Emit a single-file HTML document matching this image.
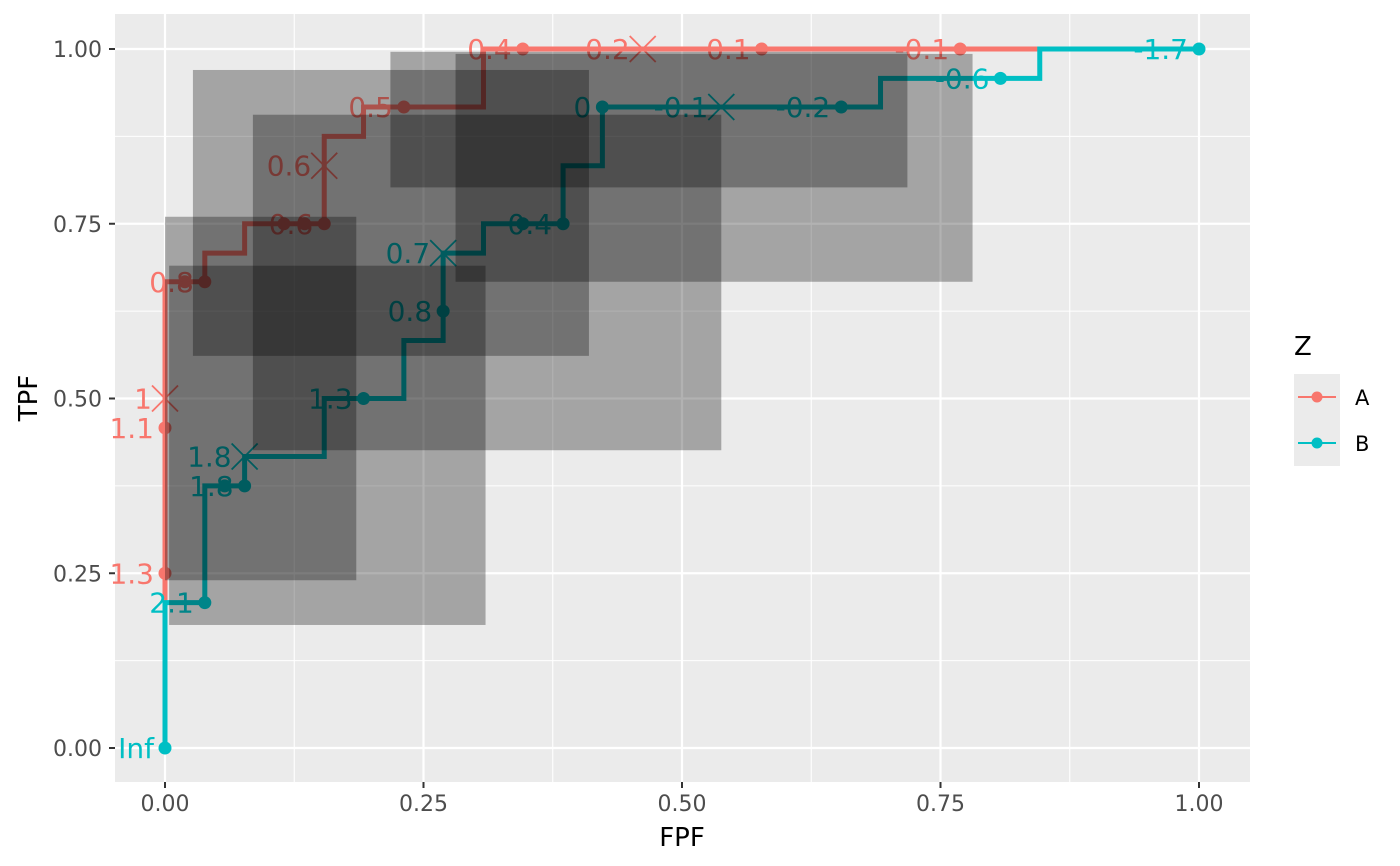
<!DOCTYPE html>
<html><head><meta charset="utf-8"><style>
html,body{margin:0;padding:0;background:#fff;}
svg{display:block;font-family:"DejaVu Sans","Liberation Sans",sans-serif;}
</style></head><body>
<svg id="chart" width="1400" height="866" viewBox="0 0 1400 866" xmlns="http://www.w3.org/2000/svg">
<rect x="0" y="0" width="1400" height="866" fill="#fff"/>
<rect x="115" y="14" width="1135" height="768" fill="#EBEBEB"/>
<g id="grid"></g>
<g id="series"></g>
<g id="rects"></g>
<g id="axes"></g>
<text x="682" y="846" font-size="26" text-anchor="middle" fill="#000">FPF</text>
<text x="0" y="0" font-size="26" text-anchor="middle" fill="#000" transform="translate(37,398) rotate(-90)">TPF</text>
<g>
<text x="1294" y="355" font-size="26" fill="#000">Z</text>
<g>
<rect x="1294" y="374" width="46" height="46" fill="#EBEBEB"/>
<line x1="1298" y1="397" x2="1336" y2="397" stroke="#F8766D" stroke-width="2"/>
<circle cx="1317" cy="397" r="5.5" fill="#F8766D"/>
<text x="1355" y="405" font-size="21" fill="#000">A</text>
</g>
<g>
<rect x="1294" y="420" width="46" height="46" fill="#EBEBEB"/>
<line x1="1298" y1="443" x2="1336" y2="443" stroke="#00BFC4" stroke-width="2"/>
<circle cx="1317" cy="443" r="5.5" fill="#00BFC4"/>
<text x="1355" y="451" font-size="21" fill="#000">B</text>
</g>
</g>
</svg>
<script>
const xTicks = [0, 0.25, 0.5, 0.75, 1];
const xTickLabels = ["0.00", "0.25", "0.50", "0.75", "1.00"];
const yTicks = [0, 0.25, 0.5, 0.75, 1];
const yTickLabels = ["0.00", "0.25", "0.50", "0.75", "1.00"];
const minorTicks = [0.125, 0.375, 0.625, 0.875];

const aStepFPF = [0,0,0.0385,0.0385,0.077,0.077,0.154,0.154,0.192,0.192,0.308,0.308,1];
const aStepTPF = [0,0.667,0.667,0.708,0.708,0.75,0.75,0.875,0.875,0.917,0.917,1,1];
const bStepFPF = [0,0,0.0385,0.0385,0.077,0.077,0.154,0.154,0.231,0.231,0.269,0.269,0.308,0.308,0.385,0.385,0.423,0.423,0.692,0.692,0.846,0.846,1];
const bStepTPF = [0,0.208,0.208,0.375,0.375,0.417,0.417,0.5,0.5,0.583,0.583,0.708,0.708,0.75,0.75,0.833,0.833,0.917,0.917,0.958,0.958,1,1];

const aPointFPF = [0,0,0.0192,0.0385,0.115,0.135,0.154,0.231,0.346,0.577,0.769];
const aPointTPF = [0.25,0.458,0.667,0.667,0.75,0.75,0.75,0.917,1,1,1];
const aPointLabels = ["1.3","1.1","","0.8","","","0.6","0.5","0.4","0.1","-0.1"];
const bPointFPF = [0,0.0385,0.0577,0.077,0.192,0.269,0.346,0.385,0.423,0.654,0.808,1];
const bPointTPF = [0,0.208,0.375,0.375,0.5,0.625,0.75,0.75,0.917,0.917,0.958,1];
const bPointLabels = ["Inf","2.1","","1.8","1.3","0.8","","0.4","0","-0.2","-0.6","-1.7"];

const aCrossFPF = [0,0.154,0.462];
const aCrossTPF = [0.5,0.833,1];
const aCrossLabels = ["1","0.6","0.2"];
const bCrossFPF = [0.077,0.269,0.538];
const bCrossTPF = [0.417,0.708,0.917];
const bCrossLabels = ["1.8","0.7","-0.1"];

const rectXMin = [0,0.004,0.027,0.085,0.218,0.281];
const rectXMax = [0.185,0.310,0.410,0.538,0.718,0.781];
const rectYMin = [0.240,0.176,0.561,0.426,0.802,0.667];
const rectYMax = [0.760,0.690,0.970,0.906,0.996,0.993];

const NS = "http://www.w3.org/2000/svg";
function sx(v){ return 165 + 1034*v; }
function sy(v){ return 748 - 699*v; }
function mk(tag, attrs, parent){
  const e = document.createElementNS(NS, tag);
  for (const k in attrs) e.setAttribute(k, attrs[k]);
  parent.appendChild(e);
  return e;
}
const grid = document.getElementById('grid');
const series = document.getElementById('series');
const rects = document.getElementById('rects');
const axes = document.getElementById('axes');

minorTicks.forEach(function(t){
  const l1 = mk('line', {x1:sx(t), x2:sx(t), y1:14, y2:782, stroke:'#fff', 'stroke-width':1.1}, grid);
  
  
  const l2 = mk('line', {x1:115, x2:1250, y1:sy(t), y2:sy(t), stroke:'#fff', 'stroke-width':1.1}, grid);
  
  
});
xTicks.forEach(function(t, i){
  const g = mk('line', {x1:sx(t), x2:sx(t), y1:14, y2:782, stroke:'#fff', 'stroke-width':2.2}, grid);
  
  
  const tk = mk('line', {x1:sx(t), x2:sx(t), y1:782, y2:788, stroke:'#333', 'stroke-width':2}, axes);
  
  
  const tx = mk('text', {x:sx(t), y:811, 'font-size':22, 'text-anchor':'middle', fill:'#4D4D4D'}, axes);
  tx.textContent = xTickLabels[i];
  
  
});
yTicks.forEach(function(t, i){
  const g = mk('line', {x1:115, x2:1250, y1:sy(t), y2:sy(t), stroke:'#fff', 'stroke-width':2.2}, grid);
  
  
  const tk = mk('line', {x1:109, x2:115, y1:sy(t), y2:sy(t), stroke:'#333', 'stroke-width':2}, axes);
  
  
  const tx = mk('text', {x:102, y:sy(t)+8, 'font-size':22, 'text-anchor':'end', fill:'#4D4D4D'}, axes);
  tx.textContent = yTickLabels[i];
  
  
});

function drawSeries(fx, fy, px, py, pl, cx, cy, cl, color, key){
  const pts = fx.map(function(v, i){ return sx(v)+','+sy(fy[i]); }).join(' ');
  const line = mk('polyline', {points:pts, fill:'none', stroke:color, 'stroke-width':5, 'stroke-linejoin':'miter'}, series);
  
  
  px.forEach(function(v, i){
    const c = mk('circle', {cx:sx(v), cy:sy(py[i]), r:6.5, fill:color}, series);
    
    
    if (pl[i]) {
      const t = mk('text', {x:sx(v)-11, y:sy(py[i])+10, 'font-size':28, 'text-anchor':'end', fill:color}, series);
      t.textContent = pl[i];
      
      
    }
  });
  cx.forEach(function(v, i){
    const X = sx(v), Y = sy(cy[i]), s = 13;
    const p = mk('path', {d:'M'+(X-s)+' '+(Y-s)+'L'+(X+s)+' '+(Y+s)+'M'+(X-s)+' '+(Y+s)+'L'+(X+s)+' '+(Y-s), stroke:color, 'stroke-width':1.8, fill:'none'}, series);
    
    
    const t = mk('text', {x:X-13, y:Y+10, 'font-size':28, 'text-anchor':'end', fill:color}, series);
    t.textContent = cl[i];
    
    
  });
}
drawSeries(aStepFPF, aStepTPF, aPointFPF, aPointTPF, aPointLabels, aCrossFPF, aCrossTPF, aCrossLabels, '#F8766D', 'a');
drawSeries(bStepFPF, bStepTPF, bPointFPF, bPointTPF, bPointLabels, bCrossFPF, bCrossTPF, bCrossLabels, '#00BFC4', 'b');

rectXMin.forEach(function(v, i){
  const r = mk('rect', {x:sx(v), y:sy(rectYMax[i]), width:sx(rectXMax[i])-sx(v), height:sy(rectYMin[i])-sy(rectYMax[i]), fill:'#000', 'fill-opacity':0.3}, rects);
  
  
});
</script>
</body></html>
